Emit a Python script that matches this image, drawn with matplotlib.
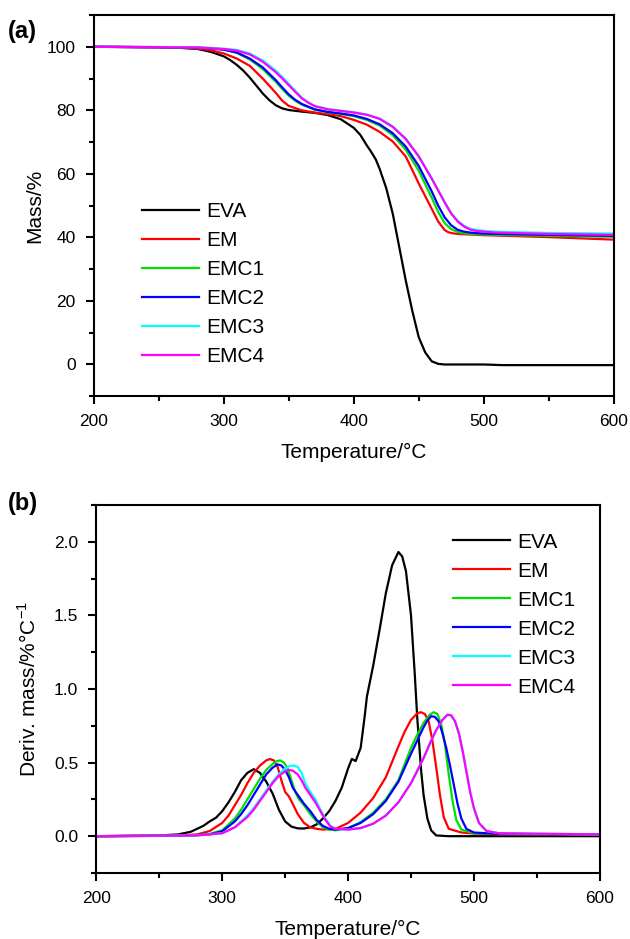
import numpy as np
import matplotlib
matplotlib.use("Agg")
import matplotlib.pyplot as plt
from matplotlib.ticker import MultipleLocator, FormatStrFormatter

plt.rcParams['font.family'] = ['Liberation Sans', 'DejaVu Sans']
plt.rcParams['mathtext.fontset'] = 'custom'
plt.rcParams['mathtext.rm'] = 'Liberation Sans'

names = ['EVA', 'EM', 'EMC1', 'EMC2', 'EMC3', 'EMC4']
colors = ['#000000', '#ff0000', '#00e000', '#0000ff', '#00ffff', '#ff00ff']

# ---- TGA (mass %) ----
tga_t = {
    'EVA': [200, 250, 270, 280, 290, 300, 305, 310, 315, 320, 325, 330, 335, 340, 345, 350, 360, 370, 380,
            390, 400, 405, 410, 413, 417, 420, 425, 430, 435, 440, 445, 450, 455, 460, 465, 470, 500, 515, 600],
    'EM': [200, 260, 280, 290, 300, 310, 320, 330, 340, 345, 350, 360, 370, 380, 390, 400, 410, 420, 430,
           440, 450, 455, 460, 465, 470, 473, 476, 480, 490, 500, 550, 600],
    'EMC1': [200, 270, 290, 300, 310, 320, 330, 340, 345, 350, 355, 360, 370, 380, 390, 400, 410, 420, 430,
             440, 450, 460, 465, 470, 475, 480, 485, 490, 500, 550, 600],
    'EMC2': [200, 270, 290, 300, 310, 320, 330, 340, 345, 350, 355, 360, 370, 380, 390, 400, 410, 420, 430,
             440, 450, 460, 465, 470, 475, 480, 485, 490, 500, 550, 600],
    'EMC3': [200, 280, 300, 310, 320, 330, 340, 345, 350, 355, 360, 365, 370, 380, 390, 400, 410, 420, 430,
             440, 450, 460, 470, 475, 480, 485, 490, 495, 500, 510, 550, 600],
    'EMC4': [200, 280, 300, 310, 320, 330, 340, 345, 350, 355, 360, 365, 370, 380, 390, 400, 410, 420, 430,
             440, 450, 460, 470, 475, 480, 485, 490, 495, 500, 510, 550, 600],
}
tga_m = {
    'EVA': [100, 99.9, 99.6, 99.3, 98.4, 97.0, 95.8, 94.3, 92.5, 90.3, 87.8, 85.3, 83.2, 81.6, 80.6, 80.1,
            79.6, 79.2, 78.5, 77.2, 74.5, 72.3, 69.0, 67.2, 64.5, 61.5, 55.5, 47.5, 37.0, 26.5, 17.0, 8.6,
            3.8, 1.0, 0.2, 0.0, 0.0, -0.2, -0.2],
    'EM': [100, 99.8, 99.4, 98.9, 97.9, 96.3, 94.0, 90.0, 85.5, 83.0, 81.4, 80.0, 79.3, 78.8, 78.2, 77.0,
           75.5, 73.2, 70.2, 65.5, 57.0, 53.0, 49.0, 45.0, 42.3, 41.6, 41.3, 41.1, 40.9, 40.7, 40.1, 39.3],
    'EMC1': [100, 99.8, 99.5, 99.1, 98.1, 96.0, 93.0, 89.0, 86.7, 84.6, 83.0, 81.8, 80.2, 79.4, 78.9, 78.2,
             77.0, 75.2, 72.2, 67.6, 61.0, 52.5, 48.0, 44.5, 42.6, 41.7, 41.3, 41.1, 40.9, 40.5, 40.2],
    'EMC2': [100, 99.8, 99.5, 99.1, 98.2, 96.3, 93.5, 89.5, 87.2, 85.0, 83.3, 82.0, 80.3, 79.5, 79.0, 78.4,
             77.3, 75.6, 72.8, 68.6, 62.5, 54.5, 50.0, 46.3, 43.8, 42.4, 41.8, 41.5, 41.2, 40.8, 40.5],
    'EMC3': [100, 99.9, 99.4, 99.0, 97.9, 95.7, 92.5, 90.5, 88.3, 86.1, 84.0, 82.5, 81.4, 80.4, 79.9, 79.4,
             78.7, 77.4, 74.9, 71.1, 65.6, 58.6, 51.1, 47.6, 45.2, 43.6, 42.7, 42.3, 42.1, 41.8, 41.4, 41.2],
    'EMC4': [100, 99.8, 99.3, 98.8, 97.6, 95.3, 92.0, 90.0, 87.9, 85.8, 83.8, 82.4, 81.3, 80.3, 79.8, 79.3,
             78.6, 77.3, 74.8, 71.0, 65.5, 58.5, 51.0, 47.5, 45.0, 43.4, 42.4, 42.0, 41.8, 41.5, 41.1, 40.8],
}

# ---- DTG (deriv. mass) ----
dtg_t = {
    'EVA': [200, 250, 265, 275, 285, 290, 295, 300, 305, 310, 315, 320, 325, 330, 335, 340, 345, 350, 355,
            360, 365, 370, 375, 380, 385, 390, 395, 400, 403, 406, 410, 413, 415, 420, 425, 430, 435, 440,
            443, 446, 450, 453, 455, 458, 460, 463, 466, 470, 480, 600],
    'EM': [200, 260, 280, 290, 300, 305, 310, 315, 320, 325, 330, 335, 338, 341, 344, 347, 350, 353, 356,
           360, 365, 370, 375, 380, 390, 400, 410, 420, 430, 440, 445, 450, 455, 458, 461, 464, 467, 470,
           473, 476, 480, 490, 500, 520, 600],
    'EMC1': [200, 270, 290, 300, 310, 315, 320, 325, 330, 335, 340, 343, 346, 349, 352, 355, 358, 361, 365,
             370, 375, 380, 385, 390, 400, 410, 420, 430, 440, 450, 455, 460, 465, 468, 471, 474, 477, 480,
             483, 486, 490, 500, 520, 600],
    'EMC2': [200, 270, 290, 300, 310, 315, 320, 325, 330, 335, 340, 344, 347, 350, 353, 356, 360, 365, 370,
             375, 380, 385, 390, 400, 410, 420, 430, 440, 450, 455, 460, 463, 466, 469, 472, 475, 478, 481,
             484, 487, 490, 494, 500, 520, 600],
    'EMC3': [200, 280, 300, 310, 320, 325, 330, 335, 340, 345, 350, 354, 357, 360, 363, 366, 370, 374, 378,
             382, 386, 390, 400, 410, 420, 430, 440, 450, 460, 465, 470, 475, 479, 482, 485, 488, 491, 494,
             497, 500, 504, 510, 520, 600],
    'EMC4': [200, 280, 300, 310, 320, 325, 330, 335, 340, 345, 350, 353, 356, 360, 363, 366, 370, 374, 378,
             382, 386, 390, 400, 410, 420, 430, 440, 450, 460, 465, 470, 475, 479, 482, 485, 488, 491, 494,
             497, 500, 504, 510, 520, 600],
}
dtg_v = {
    'EVA': [0, 0.005, 0.012, 0.03, 0.07, 0.10, 0.125, 0.17, 0.23, 0.30, 0.38, 0.43, 0.455, 0.43, 0.37, 0.29,
            0.18, 0.10, 0.065, 0.053, 0.052, 0.06, 0.08, 0.12, 0.17, 0.24, 0.33, 0.46, 0.525, 0.51, 0.60,
            0.80, 0.95, 1.16, 1.40, 1.65, 1.84, 1.93, 1.90, 1.80, 1.50, 1.10, 0.80, 0.45, 0.28, 0.12, 0.04,
            0.005, 0, 0],
    'EM': [0, 0.003, 0.012, 0.035, 0.09, 0.14, 0.21, 0.28, 0.36, 0.43, 0.48, 0.515, 0.524, 0.515, 0.47,
           0.38, 0.30, 0.27, 0.22, 0.15, 0.09, 0.06, 0.05, 0.045, 0.05, 0.09, 0.16, 0.26, 0.40, 0.61, 0.71,
           0.79, 0.835, 0.842, 0.83, 0.78, 0.65, 0.47, 0.28, 0.13, 0.05, 0.025, 0.018, 0.012, 0.01],
    'EMC1': [0, 0.003, 0.015, 0.04, 0.12, 0.18, 0.25, 0.32, 0.39, 0.45, 0.49, 0.508, 0.515, 0.50, 0.46,
             0.38, 0.30, 0.25, 0.21, 0.15, 0.10, 0.06, 0.045, 0.04, 0.055, 0.095, 0.16, 0.25, 0.38, 0.60,
             0.69, 0.77, 0.825, 0.842, 0.83, 0.76, 0.62, 0.42, 0.24, 0.11, 0.045, 0.02, 0.015, 0.012],
    'EMC2': [0, 0.003, 0.012, 0.033, 0.10, 0.15, 0.21, 0.28, 0.35, 0.42, 0.465, 0.488, 0.48, 0.45, 0.40,
             0.33, 0.28, 0.22, 0.17, 0.11, 0.07, 0.05, 0.045, 0.055, 0.09, 0.15, 0.24, 0.37, 0.56, 0.65,
             0.74, 0.785, 0.815, 0.81, 0.78, 0.70, 0.60, 0.48, 0.35, 0.22, 0.12, 0.05, 0.025, 0.015, 0.012],
    'EMC3': [0, 0.005, 0.02, 0.06, 0.14, 0.19, 0.25, 0.31, 0.37, 0.42, 0.46, 0.478, 0.48, 0.47, 0.43, 0.36,
             0.30, 0.25, 0.18, 0.12, 0.07, 0.05, 0.045, 0.055, 0.085, 0.14, 0.23, 0.36, 0.53, 0.63, 0.72,
             0.79, 0.825, 0.82, 0.78, 0.70, 0.58, 0.44, 0.30, 0.19, 0.09, 0.035, 0.02, 0.012],
    'EMC4': [0, 0.005, 0.02, 0.06, 0.13, 0.18, 0.24, 0.30, 0.36, 0.41, 0.44, 0.45, 0.445, 0.42, 0.38, 0.33,
             0.28, 0.23, 0.17, 0.11, 0.065, 0.05, 0.045, 0.055, 0.085, 0.14, 0.23, 0.36, 0.53, 0.63, 0.72,
             0.79, 0.825, 0.82, 0.78, 0.70, 0.58, 0.44, 0.30, 0.19, 0.09, 0.035, 0.02, 0.012],
}

fig = plt.figure(figsize=(6.3, 9.39), dpi=100)
ax1 = fig.add_axes([0.149, 0.578, 0.825, 0.406])
ax2 = fig.add_axes([0.153, 0.0703, 0.799, 0.392])


def style(ax):
    for s in ax.spines.values():
        s.set_linewidth(1.5)
    ax.tick_params(which='both', direction='out', width=1.5, top=False, right=False,
                   labelsize=12.5, pad=7)
    ax.tick_params(which='major', length=6)
    ax.tick_params(which='minor', length=3.5)
    ax.set_xlim(200, 600)
    ax.xaxis.set_major_locator(MultipleLocator(100))
    ax.xaxis.set_minor_locator(MultipleLocator(50))


for n, c in zip(names, colors):
    ax1.plot(tga_t[n], tga_m[n], color=c, lw=1.6, label=n)
    ax2.plot(dtg_t[n], dtg_v[n], color=c, lw=1.6, label=n)

leg_kw = dict(loc='upper left', frameon=False, fontsize=15, handlelength=2.75,
              handletextpad=0.35, labelspacing=0.48, borderpad=0, borderaxespad=0)

style(ax1)
ax1.set_ylim(-10, 110)
ax1.yaxis.set_major_locator(MultipleLocator(20))
ax1.yaxis.set_minor_locator(MultipleLocator(10))
ax1.set_ylabel('Mass/%', fontsize=15, labelpad=2)
ax1.set_xlabel('Temperature/°C', fontsize=15, labelpad=10)
ax1.legend(bbox_to_anchor=(0.092, 0.51), **leg_kw)

style(ax2)
ax2.set_ylim(-0.25, 2.25)
ax2.yaxis.set_major_locator(MultipleLocator(0.5))
ax2.yaxis.set_minor_locator(MultipleLocator(0.25))
ax2.yaxis.set_major_formatter(FormatStrFormatter('%.1f'))
ax2.set_ylabel('Deriv. mass/%°C$^{-1}$', fontsize=15, labelpad=10)
ax2.set_xlabel('Temperature/°C', fontsize=15, labelpad=10)
ax2.legend(bbox_to_anchor=(0.708, 0.925), **leg_kw)

fig.text(0.012, 0.966, '(a)', fontsize=17, fontweight='bold', va='center')
fig.text(0.012, 0.464, '(b)', fontsize=17, fontweight='bold', va='center')

fig.savefig('out.png', dpi=100)
